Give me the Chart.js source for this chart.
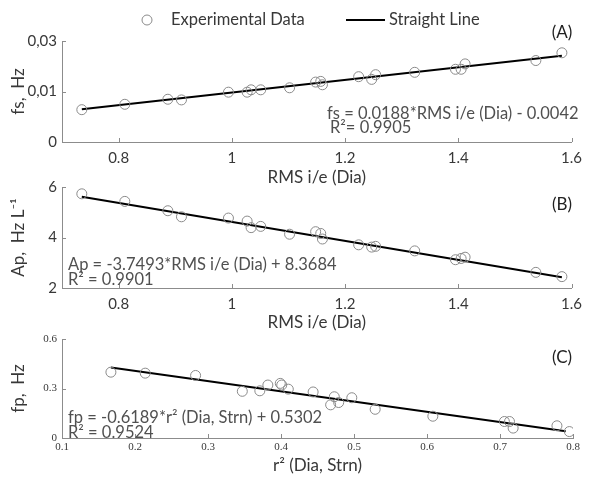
<!DOCTYPE html>
<html>
<head>
<meta charset="utf-8">
<script src="https://cdn.jsdelivr.net/npm/chart.js@4.4.0/dist/chart.umd.min.js"></script>
<style>
  html, body { margin: 0; padding: 0; background: #fff; }
  #wrap { position: relative; width: 589px; height: 482px; }
  .panel { position: absolute; left: 0; width: 589px; }
</style>
</head>
<body>
<div id="wrap">
  <div class="panel" style="top:0;height:192px"><canvas id="chartA"></canvas></div>
  <div class="panel" style="top:150px;height:187px"><canvas id="chartB"></canvas></div>
  <div class="panel" style="top:300px;height:182px"><canvas id="chartC"></canvas></div>
</div>
<script>
// RMS i/e (Dia), shared by panels A and B
const rmsIE = [0.735, 0.811, 0.887, 0.911, 0.994, 1.027, 1.034, 1.051, 1.102, 1.148, 1.157,
               1.160, 1.224, 1.247, 1.254, 1.323, 1.395, 1.405, 1.412, 1.537, 1.583];
const fsValues = [0.0096, 0.0112, 0.0127, 0.0125, 0.0148, 0.0148, 0.0155, 0.0155, 0.0161, 0.0178, 0.0180,
                  0.0170, 0.0194, 0.0186, 0.0200, 0.0207, 0.0216, 0.0216, 0.0232, 0.0242, 0.0265];
const apValues = [5.73, 5.43, 5.06, 4.82, 4.77, 4.65, 4.39, 4.44, 4.13, 4.23, 4.16,
                  3.94, 3.71, 3.62, 3.65, 3.47, 3.12, 3.17, 3.22, 2.62, 2.45];

// r^2 (Dia, Strn) for panel C
const r2Values = [0.167, 0.214, 0.283, 0.347, 0.371, 0.382, 0.399, 0.401, 0.410, 0.444, 0.468,
                  0.473, 0.479, 0.497, 0.529, 0.608, 0.706, 0.713, 0.718, 0.778, 0.795];
const fpValues = [0.399, 0.393, 0.379, 0.283, 0.286, 0.321, 0.331, 0.321, 0.296, 0.279, 0.201,
                  0.250, 0.215, 0.244, 0.174, 0.132, 0.100, 0.100, 0.060, 0.074, 0.039];

// straight line ends
const fitXA = [0.735, 1.583];
const fitYA = [0.0097, 0.0256];
const fitYB = [5.61, 2.43];
const fitXC = [0.167, 0.790];
const fitYC = [0.427, 0.041];

// tick labels
const rmsTicks = [0.8, 1, 1.2, 1.4, 1.6];
const fsTicks = [0, 0.015, 0.03];
const fsTickLabels = ['0', '0,01', '0,03'];
const apTicks = [2, 4, 6];
const r2Ticks = [0.1, 0.2, 0.3, 0.4, 0.5, 0.6, 0.7, 0.8];
const fpTicks = [0, 0.3, 0.6];

const sans = 'Lato, "Open Sans", sans-serif';
const serif = '"Liberation Serif", "DejaVu Serif", serif';
const textColor = '#383838';
const noteColor = '#505050';
const axisColor = '#8c8c8c';

function pts(xs, ys) {
  return xs.map((x, i) => ({ x: x, y: ys[i] }));
}

// small tick marks pointing into the plot, as in the original figure
const inwardTicks = {
  id: 'inwardTicks',
  afterDatasetsDraw(chart) {
    const { ctx, chartArea, scales } = chart;
    ctx.save();
    ctx.strokeStyle = axisColor;
    ctx.lineWidth = 1;
    ctx.beginPath();
    scales.x.ticks.forEach(t => {
      const px = Math.round(scales.x.getPixelForValue(t.value)) + 0.5;
      ctx.moveTo(px, chartArea.bottom);
      ctx.lineTo(px, chartArea.bottom - 4);
    });
    scales.y.ticks.forEach(t => {
      const py = Math.round(scales.y.getPixelForValue(t.value)) + 0.5;
      ctx.moveTo(chartArea.left, py);
      ctx.lineTo(chartArea.left + 4, py);
    });
    ctx.stroke();
    ctx.restore();
  }
};

// panel letters, equations and the legend
const notes = {
  id: 'notes',
  afterDraw(chart, args, opts) {
    const ctx = chart.ctx;
    ctx.save();
    ctx.textBaseline = 'middle';
    (opts.items || []).forEach(it => {
      ctx.font = it.font || ('16.5px ' + sans);
      ctx.fillStyle = it.color || noteColor;
      ctx.textAlign = it.align || 'left';
      ctx.fillText(it.text, it.x, it.y);
    });
    if (opts.legend) {
      const lg = opts.legend;
      const ds = chart.data.datasets;
      ctx.font = '16.5px ' + sans;
      ctx.fillStyle = textColor;
      ctx.textAlign = 'left';
      // marker item
      ctx.beginPath();
      ctx.arc(lg.markerX, lg.y, 5, 0, Math.PI * 2);
      ctx.strokeStyle = ds[0].borderColor;
      ctx.lineWidth = 1;
      ctx.stroke();
      ctx.fillText(ds[0].label, lg.markerX + 24, lg.y);
      // line item
      ctx.beginPath();
      ctx.moveTo(lg.lineX, lg.y);
      ctx.lineTo(lg.lineX + 39, lg.y);
      ctx.strokeStyle = ds[1].borderColor;
      ctx.lineWidth = 2;
      ctx.stroke();
      ctx.fillText(ds[1].label, lg.lineX + 43, lg.y);
    }
    ctx.restore();
  }
};

function makeChart(id, cfg) {
  const tickFont = cfg.serifTicks ? { family: serif, size: 11 } : { family: sans, size: 15 };
  return new Chart(document.getElementById(id).getContext('2d'), {
    type: 'scatter',
    data: {
      datasets: [
        {
          label: 'Experimental Data',
          data: cfg.points,
          pointStyle: 'circle',
          pointRadius: 5,
          borderColor: '#8a8a8a',
          backgroundColor: 'rgba(0,0,0,0)',
          borderWidth: 1
        },
        {
          label: 'Straight Line',
          data: cfg.line,
          showLine: true,
          pointRadius: 0,
          borderColor: '#000000',
          borderWidth: 2
        }
      ]
    },
    options: {
      responsive: true,
      maintainAspectRatio: false,
      animation: false,
      events: [],
      layout: { padding: { top: cfg.padTop, right: 16, left: 0, bottom: 0 } },
      plugins: {
        legend: { display: false },
        tooltip: { enabled: false },
        notes: { items: cfg.notes, legend: cfg.legend }
      },
      scales: {
        x: {
          type: 'linear',
          min: cfg.xMin,
          max: cfg.xMax,
          afterBuildTicks: s => { s.ticks = cfg.xTicks.map(v => ({ value: v })); },
          afterFit: s => { s.height = cfg.xHeight; },
          grid: { display: true, drawOnChartArea: false, drawTicks: false },
          border: { display: true, color: axisColor, width: 1 },
          ticks: {
            autoSkip: false, maxRotation: 0, padding: cfg.serifTicks ? 3 : 7,
            color: textColor, font: tickFont,
            callback: v => String(v)
          },
          title: {
            display: true, text: cfg.xTitle, color: textColor,
            font: { family: sans, size: 17 },
            padding: { top: 0, bottom: cfg.xTitlePad }
          }
        },
        y: {
          type: 'linear',
          min: cfg.yMin,
          max: cfg.yMax,
          afterBuildTicks: s => { s.ticks = cfg.yTicks.map(v => ({ value: v })); },
          afterFit: s => { s.width = 62; },
          grid: { display: true, drawOnChartArea: false, drawTicks: false },
          border: { display: true, color: axisColor, width: 1 },
          ticks: {
            autoSkip: false, padding: 5, color: textColor, font: tickFont,
            callback: (v, i) => cfg.yLabels ? cfg.yLabels[i] : String(v)
          },
          title: {
            display: true, text: cfg.yTitle, color: textColor,
            font: { family: sans, size: 17 },
            padding: { top: 8, bottom: 0 }
          }
        }
      }
    },
    plugins: [inwardTicks, notes]
  });
}

makeChart('chartA', {
  points: pts(rmsIE, fsValues),
  line: pts(fitXA, fitYA),
  padTop: 41, xHeight: 50, xTitlePad: 4,
  xMin: 0.7, xMax: 1.6, xTicks: rmsTicks,
  yMin: 0, yMax: 0.03, yTicks: fsTicks, yLabels: fsTickLabels,
  xTitle: 'RMS i/e (Dia)', yTitle: 'fs,  Hz',
  legend: { y: 20, markerX: 147, lineX: 346 },
  notes: [
    { text: '(A)', x: 562, y: 33, align: 'center', font: '17px ' + sans, color: '#222' },
    { text: 'fs = 0.0188*RMS i/e (Dia) - 0.0042', x: 327, y: 114 },
    { text: 'R\u00b2= 0.9905', x: 330, y: 128 }
  ]
});

makeChart('chartB', {
  points: pts(rmsIE, apValues),
  line: pts(fitXA, fitYB),
  padTop: 37, xHeight: 49, xTitlePad: 4,
  xMin: 0.7, xMax: 1.6, xTicks: rmsTicks,
  yMin: 2, yMax: 6, yTicks: apTicks,
  xTitle: 'RMS i/e (Dia)', yTitle: 'Ap,  Hz L\u207b\u00b9',
  notes: [
    { text: '(B)', x: 562, y: 55, align: 'center', font: '17px ' + sans, color: '#222' },
    { text: 'Ap = -3.7493*RMS i/e (Dia) + 8.3684', x: 68, y: 115 },
    { text: 'R\u00b2 = 0.9901', x: 68, y: 130 }
  ]
});

makeChart('chartC', {
  points: pts(r2Values, fpValues),
  line: pts(fitXC, fitYC),
  padTop: 39, xHeight: 44, xTitlePad: 6, serifTicks: true,
  xMin: 0.1, xMax: 0.8, xTicks: r2Ticks,
  yMin: 0, yMax: 0.6, yTicks: fpTicks,
  xTitle: 'r\u00b2 (Dia, Strn)', yTitle: 'fp,  Hz',
  notes: [
    { text: '(C)', x: 562, y: 58, align: 'center', font: '17px ' + sans, color: '#222' },
    { text: 'fp = -0.6189*r\u00b2 (Dia, Strn) + 0.5302', x: 68, y: 118 },
    { text: 'R\u00b2 = 0.9524', x: 68, y: 133 }
  ]
});
</script>
</body>
</html>
